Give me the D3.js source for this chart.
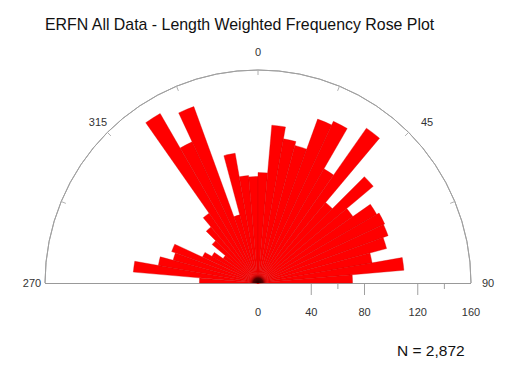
<!DOCTYPE html>
<html>
<head>
<meta charset="utf-8">
<script src="https://cdn.jsdelivr.net/npm/d3@7/dist/d3.min.js"></script>
<style>
  body { margin: 0; background: #fff; }
  svg { display: block; font-family: 'Liberation Sans', Arial, sans-serif; }
</style>
</head>
<body>
<div id="chart"></div>
<script>
// 5 degree bins, start angle (compass, clockwise from north)
const binStarts = [270, 275, 280, 285, 290, 295, 300, 305, 310, 315, 320, 325, 330, 335, 340, 345, 350, 355,
                   0, 5, 10, 15, 20, 25, 30, 35, 40, 45, 50, 55, 60, 65, 70, 75, 80, 85];
// length weighted frequency per bin
const lengths = [44, 94, 76, 66, 69, 46, 40, 32, 45, 55, 64, 147, 117, 141, 53, 99, 81, 80,
                 83, 119, 110, 107, 131, 134, 99, 142, 79, 113, 87, 103, 105, 104, 100, 87, 110, 71];
const majorTicks = [0, 40, 80, 120, 160];
const minorTicks = [60, 140];
const angleLabels = ['270', '315', '0', '45', '90'];
const binWidth = 5;
const title = 'ERFN All Data - Length Weighted Frequency Rose Plot';
const nLabel = 'N = 2,872';

const width = 523, height = 371;
const cx = 258, cy = 283;
const rad = d => d * Math.PI / 180;

const svg = d3.select('#chart')
              .append('svg')
              .attr('width', width)
              .attr('height', height);

const r = d3.scaleLinear()
            .domain([0, 160])
            .range([0, 213]);

const g = svg.append('g')
             .attr('transform', `translate(${cx}, ${cy})`);

// dark centre where the wedges meet
const defs = svg.append('defs');
const hub = defs.append('radialGradient')
                .attr('id', 'hub')
                .attr('gradientUnits', 'userSpaceOnUse')
                .attr('cx', 0).attr('cy', 0).attr('r', 10);
hub.append('stop').attr('offset', '0%').attr('stop-color', '#1a0000');
hub.append('stop').attr('offset', '50%').attr('stop-color', '#600000');
hub.append('stop').attr('offset', '100%').attr('stop-color', '#ff0000').attr('stop-opacity', 0);

// outer half circle
const outer = d3.arc()
                .innerRadius(r(160))
                .outerRadius(r(160))
                .startAngle(rad(-90))
                .endAngle(rad(90));
g.append('path')
 .attr('d', outer())
 .attr('fill', 'none')
 .attr('stroke', '#a0a0a0')
 .attr('stroke-width', 1);

// small ticks on the circle every 22.5 deg
g.selectAll('.ctick')
 .data(d3.range(-67.5, 90, 22.5))
 .enter()
 .append('line')
 .attr('class', 'ctick')
 .attr('x1', d => Math.sin(rad(d)) * (r(160) - 5))
 .attr('y1', d => -Math.cos(rad(d)) * (r(160) - 5))
 .attr('x2', d => Math.sin(rad(d)) * r(160))
 .attr('y2', d => -Math.cos(rad(d)) * r(160))
 .attr('stroke', '#b0b0b0')
 .attr('stroke-width', 1);

// baseline
g.append('line')
 .attr('x1', -r(160))
 .attr('x2', r(160))
 .attr('y1', 0.5)
 .attr('y2', 0.5)
 .attr('stroke', '#999')
 .attr('stroke-width', 1);

// rose bars
const arc = d3.arc()
              .innerRadius(0)
              .outerRadius(d => r(d.value))
              .startAngle(d => rad(d.angle))
              .endAngle(d => rad(d.angle + binWidth));

const bins = binStarts.map((a, i) => ({angle: a, value: lengths[i]}));
g.selectAll('.bar')
 .data(bins)
 .enter()
 .append('path')
 .attr('class', 'bar')
 .attr('d', arc)
 .attr('fill', '#ff0000')
 .attr('stroke', '#d00000')
 .attr('stroke-width', 0.35);

g.append('path')
 .attr('d', d3.arc().innerRadius(0).outerRadius(10).startAngle(rad(-90)).endAngle(rad(90))())
 .attr('fill', 'url(#hub)');

// radial axis ticks below the baseline
g.selectAll('.mtick')
 .data(majorTicks.filter(d => d > 0 && d < 160))
 .enter()
 .append('line')
 .attr('x1', d => r(d))
 .attr('x2', d => r(d))
 .attr('y1', 1)
 .attr('y2', 12)
 .attr('stroke', '#a0a0a0');

g.selectAll('.ntick')
 .data(minorTicks)
 .enter()
 .append('line')
 .attr('x1', d => r(d))
 .attr('x2', d => r(d))
 .attr('y1', 1)
 .attr('y2', 6)
 .attr('stroke', '#a0a0a0');

g.selectAll('.tlabel')
 .data(majorTicks)
 .enter()
 .append('text')
 .attr('x', d => r(d))
 .attr('y', 33)
 .attr('text-anchor', 'middle')
 .attr('font-size', 11)
 .attr('fill', '#333')
 .text(d => d);

// compass labels
const labelOff = [[-226, 4], [-160, -157], [0, -227], [169, -157], [230, 4]];
g.selectAll('.alabel')
 .data(angleLabels)
 .enter()
 .append('text')
 .attr('x', (d, i) => labelOff[i][0])
 .attr('y', (d, i) => labelOff[i][1])
 .attr('text-anchor', 'middle')
 .attr('font-size', 11)
 .attr('fill', '#333')
 .text(d => d);

svg.append('text')
   .attr('x', 45)
   .attr('y', 30)
   .attr('font-size', 15.9)
   .attr('fill', '#111')
   .text(title);

svg.append('text')
   .attr('x', 397)
   .attr('y', 356)
   .attr('font-size', 15.5)
   .attr('fill', '#111')
   .text(nLabel);
</script>
</body>
</html>
